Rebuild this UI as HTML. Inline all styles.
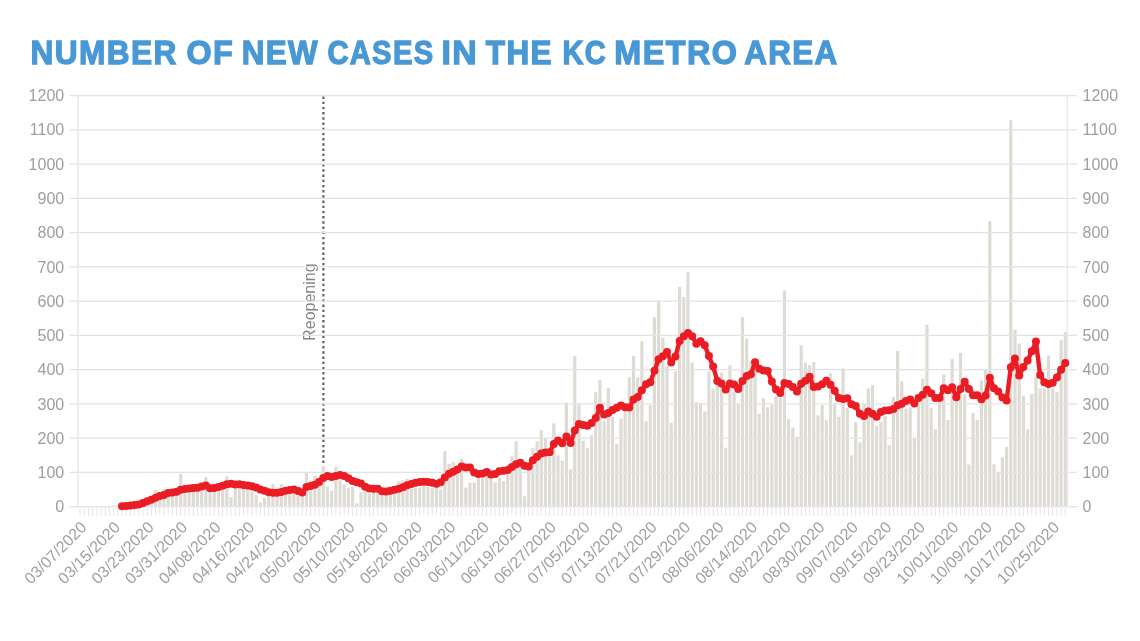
<!DOCTYPE html>
<html><head><meta charset="utf-8"><title>Number of new cases in the KC metro area</title>
<style>
html,body{margin:0;padding:0;background:#fff;width:1140px;height:641px;overflow:hidden}
svg{display:block;will-change:transform}
.t{font-family:"Liberation Sans",Arial,sans-serif;fill:#9e9e9e;font-size:16px}
</style></head><body>
<svg width="1140" height="641" viewBox="0 0 1140 641">
<rect width="1140" height="641" fill="#fff"/>
<text x="30.60" y="64.4" font-family="'Liberation Sans',Arial,sans-serif" font-weight="bold" font-size="34" fill="#4898d5" stroke="#4898d5" stroke-width="1.3" letter-spacing="1.5" textLength="147.20" lengthAdjust="spacingAndGlyphs">NUMBER</text>
<text x="186.50" y="64.4" font-family="'Liberation Sans',Arial,sans-serif" font-weight="bold" font-size="34" fill="#4898d5" stroke="#4898d5" stroke-width="1.3" letter-spacing="1.5" textLength="47.70" lengthAdjust="spacingAndGlyphs">OF</text>
<text x="241.80" y="64.4" font-family="'Liberation Sans',Arial,sans-serif" font-weight="bold" font-size="34" fill="#4898d5" stroke="#4898d5" stroke-width="1.3" letter-spacing="1.5" textLength="77.30" lengthAdjust="spacingAndGlyphs">NEW</text>
<text x="327.40" y="64.4" font-family="'Liberation Sans',Arial,sans-serif" font-weight="bold" font-size="34" fill="#4898d5" stroke="#4898d5" stroke-width="1.3" letter-spacing="1.5" textLength="107.00" lengthAdjust="spacingAndGlyphs">CASES</text>
<text x="441.40" y="64.4" font-family="'Liberation Sans',Arial,sans-serif" font-weight="bold" font-size="34" fill="#4898d5" stroke="#4898d5" stroke-width="1.3" letter-spacing="1.5" textLength="36.80" lengthAdjust="spacingAndGlyphs">IN</text>
<text x="485.80" y="64.4" font-family="'Liberation Sans',Arial,sans-serif" font-weight="bold" font-size="34" fill="#4898d5" stroke="#4898d5" stroke-width="1.3" letter-spacing="1.5" textLength="67.20" lengthAdjust="spacingAndGlyphs">THE</text>
<text x="562.40" y="64.4" font-family="'Liberation Sans',Arial,sans-serif" font-weight="bold" font-size="34" fill="#4898d5" stroke="#4898d5" stroke-width="1.3" letter-spacing="1.5" textLength="44.50" lengthAdjust="spacingAndGlyphs">KC</text>
<text x="614.30" y="64.4" font-family="'Liberation Sans',Arial,sans-serif" font-weight="bold" font-size="34" fill="#4898d5" stroke="#4898d5" stroke-width="1.3" letter-spacing="1.5" textLength="124.10" lengthAdjust="spacingAndGlyphs">METRO</text>
<text x="744.20" y="64.4" font-family="'Liberation Sans',Arial,sans-serif" font-weight="bold" font-size="34" fill="#4898d5" stroke="#4898d5" stroke-width="1.3" letter-spacing="1.5" textLength="94.20" lengthAdjust="spacingAndGlyphs">AREA</text>
<text class="t" x="64.2" y="512.2" text-anchor="end">0</text><text class="t" x="1082.5" y="512.2">0</text>
<text class="t" x="64.2" y="478.0" text-anchor="end">100</text><text class="t" x="1082.5" y="478.0">100</text>
<text class="t" x="64.2" y="443.7" text-anchor="end">200</text><text class="t" x="1082.5" y="443.7">200</text>
<text class="t" x="64.2" y="409.5" text-anchor="end">300</text><text class="t" x="1082.5" y="409.5">300</text>
<text class="t" x="64.2" y="375.2" text-anchor="end">400</text><text class="t" x="1082.5" y="375.2">400</text>
<text class="t" x="64.2" y="341.0" text-anchor="end">500</text><text class="t" x="1082.5" y="341.0">500</text>
<text class="t" x="64.2" y="306.7" text-anchor="end">600</text><text class="t" x="1082.5" y="306.7">600</text>
<text class="t" x="64.2" y="272.5" text-anchor="end">700</text><text class="t" x="1082.5" y="272.5">700</text>
<text class="t" x="64.2" y="238.2" text-anchor="end">800</text><text class="t" x="1082.5" y="238.2">800</text>
<text class="t" x="64.2" y="204.0" text-anchor="end">900</text><text class="t" x="1082.5" y="204.0">900</text>
<text class="t" x="64.2" y="169.7" text-anchor="end">1000</text><text class="t" x="1082.5" y="169.7">1000</text>
<text class="t" x="64.2" y="135.4" text-anchor="end">1100</text><text class="t" x="1082.5" y="135.4">1100</text>
<text class="t" x="64.2" y="101.2" text-anchor="end">1200</text><text class="t" x="1082.5" y="101.2">1200</text>
<path d="M323.4 96.5V465" stroke="#666" stroke-width="2.3" stroke-dasharray="2.4 2.8" fill="none"/>
<text x="315.3" y="340.8" transform="rotate(-90 315.3 340.8)" font-family="'Liberation Sans',Arial,sans-serif" font-size="16" fill="#858585">Reopening</text>
<path d="M80.10 507.5V515.5M84.29 507.5V515.5M88.48 507.5V515.5M92.67 507.5V515.5M96.87 507.5V515.5M101.06 507.5V515.5M105.25 507.5V515.5M109.44 507.5V515.5M113.64 507.5V515.5M117.83 507.5V515.5M122.02 507.5V515.5M126.21 507.5V515.5M130.40 507.5V515.5M134.60 507.5V515.5M138.79 507.5V515.5M142.98 507.5V515.5M147.17 507.5V515.5M151.37 507.5V515.5M155.56 507.5V515.5M159.75 507.5V515.5M163.94 507.5V515.5M168.14 507.5V515.5M172.33 507.5V515.5M176.52 507.5V515.5M180.71 507.5V515.5M184.91 507.5V515.5M189.10 507.5V515.5M193.29 507.5V515.5M197.48 507.5V515.5M201.68 507.5V515.5M205.87 507.5V515.5M210.06 507.5V515.5M214.25 507.5V515.5M218.44 507.5V515.5M222.64 507.5V515.5M226.83 507.5V515.5M231.02 507.5V515.5M235.21 507.5V515.5M239.41 507.5V515.5M243.60 507.5V515.5M247.79 507.5V515.5M251.98 507.5V515.5M256.18 507.5V515.5M260.37 507.5V515.5M264.56 507.5V515.5M268.75 507.5V515.5M272.95 507.5V515.5M277.14 507.5V515.5M281.33 507.5V515.5M285.52 507.5V515.5M289.71 507.5V515.5M293.91 507.5V515.5M298.10 507.5V515.5M302.29 507.5V515.5M306.48 507.5V515.5M310.68 507.5V515.5M314.87 507.5V515.5M319.06 507.5V515.5M323.25 507.5V515.5M327.45 507.5V515.5M331.64 507.5V515.5M335.83 507.5V515.5M340.02 507.5V515.5M344.22 507.5V515.5M348.41 507.5V515.5M352.60 507.5V515.5M356.79 507.5V515.5M360.99 507.5V515.5M365.18 507.5V515.5M369.37 507.5V515.5M373.56 507.5V515.5M377.75 507.5V515.5M381.95 507.5V515.5M386.14 507.5V515.5M390.33 507.5V515.5M394.52 507.5V515.5M398.72 507.5V515.5M402.91 507.5V515.5M407.10 507.5V515.5M411.29 507.5V515.5M415.49 507.5V515.5M419.68 507.5V515.5M423.87 507.5V515.5M428.06 507.5V515.5M432.26 507.5V515.5M436.45 507.5V515.5M440.64 507.5V515.5M444.83 507.5V515.5M449.03 507.5V515.5M453.22 507.5V515.5M457.41 507.5V515.5M461.60 507.5V515.5M465.79 507.5V515.5M469.99 507.5V515.5M474.18 507.5V515.5M478.37 507.5V515.5M482.56 507.5V515.5M486.76 507.5V515.5M490.95 507.5V515.5M495.14 507.5V515.5M499.33 507.5V515.5M503.53 507.5V515.5M507.72 507.5V515.5M511.91 507.5V515.5M516.10 507.5V515.5M520.30 507.5V515.5M524.49 507.5V515.5M528.68 507.5V515.5M532.87 507.5V515.5M537.06 507.5V515.5M541.26 507.5V515.5M545.45 507.5V515.5M549.64 507.5V515.5M553.83 507.5V515.5M558.03 507.5V515.5M562.22 507.5V515.5M566.41 507.5V515.5M570.60 507.5V515.5M574.80 507.5V515.5M578.99 507.5V515.5M583.18 507.5V515.5M587.37 507.5V515.5M591.57 507.5V515.5M595.76 507.5V515.5M599.95 507.5V515.5M604.14 507.5V515.5M608.34 507.5V515.5M612.53 507.5V515.5M616.72 507.5V515.5M620.91 507.5V515.5M625.10 507.5V515.5M629.30 507.5V515.5M633.49 507.5V515.5M637.68 507.5V515.5M641.87 507.5V515.5M646.07 507.5V515.5M650.26 507.5V515.5M654.45 507.5V515.5M658.64 507.5V515.5M662.84 507.5V515.5M667.03 507.5V515.5M671.22 507.5V515.5M675.41 507.5V515.5M679.61 507.5V515.5M683.80 507.5V515.5M687.99 507.5V515.5M692.18 507.5V515.5M696.38 507.5V515.5M700.57 507.5V515.5M704.76 507.5V515.5M708.95 507.5V515.5M713.14 507.5V515.5M717.34 507.5V515.5M721.53 507.5V515.5M725.72 507.5V515.5M729.91 507.5V515.5M734.11 507.5V515.5M738.30 507.5V515.5M742.49 507.5V515.5M746.68 507.5V515.5M750.88 507.5V515.5M755.07 507.5V515.5M759.26 507.5V515.5M763.45 507.5V515.5M767.65 507.5V515.5M771.84 507.5V515.5M776.03 507.5V515.5M780.22 507.5V515.5M784.41 507.5V515.5M788.61 507.5V515.5M792.80 507.5V515.5M796.99 507.5V515.5M801.18 507.5V515.5M805.38 507.5V515.5M809.57 507.5V515.5M813.76 507.5V515.5M817.95 507.5V515.5M822.15 507.5V515.5M826.34 507.5V515.5M830.53 507.5V515.5M834.72 507.5V515.5M838.92 507.5V515.5M843.11 507.5V515.5M847.30 507.5V515.5M851.49 507.5V515.5M855.69 507.5V515.5M859.88 507.5V515.5M864.07 507.5V515.5M868.26 507.5V515.5M872.45 507.5V515.5M876.65 507.5V515.5M880.84 507.5V515.5M885.03 507.5V515.5M889.22 507.5V515.5M893.42 507.5V515.5M897.61 507.5V515.5M901.80 507.5V515.5M905.99 507.5V515.5M910.19 507.5V515.5M914.38 507.5V515.5M918.57 507.5V515.5M922.76 507.5V515.5M926.96 507.5V515.5M931.15 507.5V515.5M935.34 507.5V515.5M939.53 507.5V515.5M943.73 507.5V515.5M947.92 507.5V515.5M952.11 507.5V515.5M956.30 507.5V515.5M960.49 507.5V515.5M964.69 507.5V515.5M968.88 507.5V515.5M973.07 507.5V515.5M977.26 507.5V515.5M981.46 507.5V515.5M985.65 507.5V515.5M989.84 507.5V515.5M994.03 507.5V515.5M998.23 507.5V515.5M1002.42 507.5V515.5M1006.61 507.5V515.5M1010.80 507.5V515.5M1015.00 507.5V515.5M1019.19 507.5V515.5M1023.38 507.5V515.5M1027.57 507.5V515.5M1031.76 507.5V515.5M1035.96 507.5V515.5M1040.15 507.5V515.5M1044.34 507.5V515.5M1048.53 507.5V515.5M1052.73 507.5V515.5M1056.92 507.5V515.5M1061.11 507.5V515.5M1065.30 507.5V515.5" stroke="#e4e4e4" stroke-width="1" fill="none"/>
<path d="M82.70 506.60v-0.34h3.19v0.34zM91.08 506.60v-0.34h3.19v0.34zM95.27 506.60v-0.34h3.19v0.34zM99.46 506.60v-0.69h3.19v0.69zM103.66 506.60v-0.34h3.19v0.34zM107.85 506.60v-0.69h3.19v0.69zM112.04 506.60v-1.03h3.19v1.03zM116.23 506.60v-0.69h3.19v0.69zM120.43 506.60v-1.03h3.19v1.03zM124.62 506.60v-1.37h3.19v1.37zM128.81 506.60v-1.71h3.19v1.71zM133.00 506.60v-2.74h3.19v2.74zM137.20 506.60v-2.06h3.19v2.06zM141.39 506.60v-4.79h3.19v4.79zM145.58 506.60v-7.54h3.19v7.54zM149.77 506.60v-9.59h3.19v9.59zM153.97 506.60v-16.44h3.19v16.44zM158.16 506.60v-11.30h3.19v11.30zM162.35 506.60v-17.81h3.19v17.81zM166.54 506.60v-11.99h3.19v11.99zM170.74 506.60v-13.70h3.19v13.70zM174.93 506.60v-13.02h3.19v13.02zM179.12 506.60v-32.88h3.19v32.88zM183.31 506.60v-16.44h3.19v16.44zM187.50 506.60v-17.81h3.19v17.81zM191.70 506.60v-18.84h3.19v18.84zM195.89 506.60v-17.12h3.19v17.12zM200.08 506.60v-19.87h3.19v19.87zM204.27 506.60v-29.46h3.19v29.46zM208.47 506.60v-14.39h3.19v14.39zM212.66 506.60v-18.84h3.19v18.84zM216.85 506.60v-20.55h3.19v20.55zM221.04 506.60v-19.87h3.19v19.87zM225.24 506.60v-30.14h3.19v30.14zM229.43 506.60v-9.59h3.19v9.59zM233.62 506.60v-20.55h3.19v20.55zM237.81 506.60v-21.24h3.19v21.24zM242.01 506.60v-22.26h3.19v22.26zM246.20 506.60v-18.84h3.19v18.84zM250.39 506.60v-19.87h3.19v19.87zM254.58 506.60v-11.30h3.19v11.30zM258.78 506.60v-4.11h3.19v4.11zM262.97 506.60v-8.91h3.19v8.91zM267.16 506.60v-13.70h3.19v13.70zM271.35 506.60v-22.61h3.19v22.61zM275.54 506.60v-10.62h3.19v10.62zM279.74 506.60v-22.61h3.19v22.61zM283.93 506.60v-13.70h3.19v13.70zM288.12 506.60v-14.39h3.19v14.39zM292.31 506.60v-13.02h3.19v13.02zM296.51 506.60v-15.41h3.19v15.41zM300.70 506.60v-11.30h3.19v11.30zM304.89 506.60v-34.59h3.19v34.59zM309.08 506.60v-26.03h3.19v26.03zM313.28 506.60v-30.83h3.19v30.83zM317.47 506.60v-26.72h3.19v26.72zM321.66 506.60v-40.76h3.19v40.76zM325.85 506.60v-20.21h3.19v20.21zM330.05 506.60v-15.76h3.19v15.76zM334.24 506.60v-39.73h3.19v39.73zM338.43 506.60v-26.37h3.19v26.37zM342.62 506.60v-22.26h3.19v22.26zM346.81 506.60v-19.18h3.19v19.18zM351.01 506.60v-19.52h3.19v19.52zM355.20 506.60v-3.43h3.19v3.43zM359.39 506.60v-14.39h3.19v14.39zM363.58 506.60v-15.41h3.19v15.41zM367.78 506.60v-13.02h3.19v13.02zM371.97 506.60v-15.41h3.19v15.41zM376.16 506.60v-13.36h3.19v13.36zM380.35 506.60v-14.39h3.19v14.39zM384.55 506.60v-11.99h3.19v11.99zM388.74 506.60v-13.36h3.19v13.36zM392.93 506.60v-13.02h3.19v13.02zM397.12 506.60v-25.35h3.19v25.35zM401.32 506.60v-26.03h3.19v26.03zM405.51 506.60v-27.74h3.19v27.74zM409.70 506.60v-17.81h3.19v17.81zM413.89 506.60v-18.84h3.19v18.84zM418.09 506.60v-18.84h3.19v18.84zM422.28 506.60v-20.55h3.19v20.55zM426.47 506.60v-19.87h3.19v19.87zM430.66 506.60v-19.18h3.19v19.18zM434.85 506.60v-21.24h3.19v21.24zM439.05 506.60v-17.12h3.19v17.12zM443.24 506.60v-55.49h3.19v55.49zM447.43 506.60v-42.81h3.19v42.81zM451.62 506.60v-44.53h3.19v44.53zM455.82 506.60v-34.25h3.19v34.25zM460.01 506.60v-47.95h3.19v47.95zM464.20 506.60v-19.18h3.19v19.18zM468.39 506.60v-23.98h3.19v23.98zM472.59 506.60v-23.98h3.19v23.98zM476.78 506.60v-30.83h3.19v30.83zM480.97 506.60v-32.54h3.19v32.54zM485.16 506.60v-34.25h3.19v34.25zM489.36 506.60v-29.11h3.19v29.11zM493.55 506.60v-23.98h3.19v23.98zM497.74 506.60v-28.77h3.19v28.77zM501.93 506.60v-25.35h3.19v25.35zM506.13 506.60v-42.13h3.19v42.13zM510.32 506.60v-50.35h3.19v50.35zM514.51 506.60v-65.42h3.19v65.42zM518.70 506.60v-44.53h3.19v44.53zM522.89 506.60v-10.28h3.19v10.28zM527.09 506.60v-37.68h3.19v37.68zM531.28 506.60v-58.23h3.19v58.23zM535.47 506.60v-65.42h3.19v65.42zM539.66 506.60v-76.72h3.19v76.72zM543.86 506.60v-68.50h3.19v68.50zM548.05 506.60v-49.66h3.19v49.66zM552.24 506.60v-83.23h3.19v83.23zM556.43 506.60v-51.03h3.19v51.03zM560.63 506.60v-45.90h3.19v45.90zM564.82 506.60v-103.78h3.19v103.78zM569.01 506.60v-37.33h3.19v37.33zM573.20 506.60v-150.70h3.19v150.70zM577.40 506.60v-102.07h3.19v102.07zM581.59 506.60v-65.76h3.19v65.76zM585.78 506.60v-58.57h3.19v58.57zM589.97 506.60v-71.24h3.19v71.24zM594.16 506.60v-114.40h3.19v114.40zM598.36 506.60v-126.73h3.19v126.73zM602.55 506.60v-85.62h3.19v85.62zM606.74 506.60v-118.51h3.19v118.51zM610.93 506.60v-89.74h3.19v89.74zM615.13 506.60v-62.68h3.19v62.68zM619.32 506.60v-88.02h3.19v88.02zM623.51 506.60v-99.67h3.19v99.67zM627.70 506.60v-129.47h3.19v129.47zM631.90 506.60v-150.70h3.19v150.70zM636.09 506.60v-129.47h3.19v129.47zM640.28 506.60v-165.43h3.19v165.43zM644.47 506.60v-85.28h3.19v85.28zM648.67 506.60v-101.38h3.19v101.38zM652.86 506.60v-189.40h3.19v189.40zM657.05 506.60v-206.19h3.19v206.19zM661.24 506.60v-168.85h3.19v168.85zM665.44 506.60v-140.77h3.19v140.77zM669.63 506.60v-83.57h3.19v83.57zM673.82 506.60v-135.29h3.19v135.29zM678.01 506.60v-219.54h3.19v219.54zM682.20 506.60v-209.61h3.19v209.61zM686.40 506.60v-234.27h3.19v234.27zM690.59 506.60v-144.19h3.19v144.19zM694.78 506.60v-104.46h3.19v104.46zM698.97 506.60v-103.44h3.19v103.44zM703.17 506.60v-95.22h3.19v95.22zM707.36 506.60v-135.29h3.19v135.29zM711.55 506.60v-117.82h3.19v117.82zM715.74 506.60v-122.27h3.19v122.27zM719.94 506.60v-133.92h3.19v133.92zM724.13 506.60v-58.91h3.19v58.91zM728.32 506.60v-141.11h3.19v141.11zM732.51 506.60v-115.42h3.19v115.42zM736.71 506.60v-102.75h3.19v102.75zM740.90 506.60v-189.40h3.19v189.40zM745.09 506.60v-168.17h3.19v168.17zM749.28 506.60v-145.56h3.19v145.56zM753.48 506.60v-140.43h3.19v140.43zM757.67 506.60v-92.82h3.19v92.82zM761.86 506.60v-108.23h3.19v108.23zM766.05 506.60v-99.33h3.19v99.33zM770.24 506.60v-101.72h3.19v101.72zM774.44 506.60v-110.29h3.19v110.29zM778.63 506.60v-108.57h3.19v108.57zM782.82 506.60v-216.12h3.19v216.12zM787.01 506.60v-87.68h3.19v87.68zM791.21 506.60v-79.12h3.19v79.12zM795.40 506.60v-69.87h3.19v69.87zM799.59 506.60v-161.32h3.19v161.32zM803.78 506.60v-143.85h3.19v143.85zM807.98 506.60v-141.45h3.19v141.45zM812.17 506.60v-144.54h3.19v144.54zM816.36 506.60v-91.45h3.19v91.45zM820.55 506.60v-101.72h3.19v101.72zM824.75 506.60v-86.31h3.19v86.31zM828.94 506.60v-133.23h3.19v133.23zM833.13 506.60v-102.75h3.19v102.75zM837.32 506.60v-89.74h3.19v89.74zM841.51 506.60v-138.03h3.19v138.03zM845.71 506.60v-98.30h3.19v98.30zM849.90 506.60v-51.38h3.19v51.38zM854.09 506.60v-84.26h3.19v84.26zM858.28 506.60v-64.39h3.19v64.39zM862.48 506.60v-102.75h3.19v102.75zM866.67 506.60v-118.16h3.19v118.16zM870.86 506.60v-121.59h3.19v121.59zM875.05 506.60v-80.83h3.19v80.83zM879.25 506.60v-84.60h3.19v84.60zM883.44 506.60v-90.42h3.19v90.42zM887.63 506.60v-61.31h3.19v61.31zM891.82 506.60v-109.94h3.19v109.94zM896.02 506.60v-155.50h3.19v155.50zM900.21 506.60v-125.01h3.19v125.01zM904.40 506.60v-97.96h3.19v97.96zM908.59 506.60v-99.33h3.19v99.33zM912.79 506.60v-67.82h3.19v67.82zM916.98 506.60v-101.72h3.19v101.72zM921.17 506.60v-128.09h3.19v128.09zM925.36 506.60v-181.87h3.19v181.87zM929.55 506.60v-98.64h3.19v98.64zM933.75 506.60v-77.41h3.19v77.41zM937.94 506.60v-104.81h3.19v104.81zM942.13 506.60v-132.21h3.19v132.21zM946.32 506.60v-86.65h3.19v86.65zM950.52 506.60v-147.62h3.19v147.62zM954.71 506.60v-108.57h3.19v108.57zM958.90 506.60v-153.78h3.19v153.78zM963.09 506.60v-112.34h3.19v112.34zM967.29 506.60v-42.13h3.19v42.13zM971.48 506.60v-93.50h3.19v93.50zM975.67 506.60v-86.65h3.19v86.65zM979.86 506.60v-126.04h3.19v126.04zM984.06 506.60v-137.00h3.19v137.00zM988.25 506.60v-285.30h3.19v285.30zM992.44 506.60v-42.13h3.19v42.13zM996.63 506.60v-34.59h3.19v34.59zM1000.83 506.60v-49.32h3.19v49.32zM1005.02 506.60v-59.60h3.19v59.60zM1009.21 506.60v-386.34h3.19v386.34zM1013.40 506.60v-176.73h3.19v176.73zM1017.59 506.60v-163.03h3.19v163.03zM1021.79 506.60v-110.97h3.19v110.97zM1025.98 506.60v-77.41h3.19v77.41zM1030.17 506.60v-112.68h3.19v112.68zM1034.36 506.60v-130.15h3.19v130.15zM1038.56 506.60v-118.16h3.19v118.16zM1042.75 506.60v-118.16h3.19v118.16zM1046.94 506.60v-151.04h3.19v151.04zM1051.13 506.60v-118.16h3.19v118.16zM1055.33 506.60v-114.74h3.19v114.74zM1059.52 506.60v-166.46h3.19v166.46zM1063.71 506.60v-174.68h3.19v174.68z" fill="#dddbd4"/>
<path d="M69.5 506.6H1077 M69.5 472.4H1077 M69.5 438.1H1077 M69.5 403.9H1077 M69.5 369.6H1077 M69.5 335.4H1077 M69.5 301.1H1077 M69.5 266.9H1077 M69.5 232.6H1077 M69.5 198.4H1077 M69.5 164.1H1077 M69.5 129.8H1077 M69.5 95.6H1077" stroke="#e3e3e3" stroke-width="1.3" fill="none"/>
<path d="M78.0 95.6V506.6M1067.4 95.6V506.6" stroke="#e9e9e9" stroke-width="1.4" fill="none"/>
<polyline points="122.02,506.22 126.21,505.92 130.40,505.62 134.60,505.02 138.79,504.39 142.98,502.94 147.17,501.17 151.37,499.77 155.56,497.68 159.75,495.94 163.94,495.11 168.14,493.08 172.33,492.59 176.52,491.71 180.71,489.71 184.91,489.06 189.10,488.43 193.29,488.11 197.48,487.79 201.68,486.60 205.87,485.42 210.06,488.36 214.25,487.91 218.44,486.99 222.64,485.85 226.83,484.13 231.02,483.67 235.21,484.57 239.41,484.36 243.60,484.90 247.79,485.46 251.98,486.16 256.18,487.58 260.37,489.38 264.56,490.86 268.75,492.33 272.95,492.69 277.14,492.86 281.33,491.97 285.52,490.68 289.71,489.92 293.91,489.51 298.10,490.94 302.29,492.55 306.48,486.95 310.68,486.05 314.87,484.79 319.06,482.04 323.25,477.95 327.45,475.90 331.64,476.90 335.83,475.96 340.02,474.88 344.22,476.09 348.41,478.14 352.60,481.11 356.79,482.36 360.99,483.51 365.18,486.74 369.37,488.40 373.56,488.79 377.75,488.79 381.95,491.32 386.14,491.43 390.33,490.87 394.52,489.85 398.72,488.81 402.91,487.22 407.10,485.33 411.29,484.03 415.49,482.78 419.68,482.07 423.87,481.65 428.06,482.12 432.26,482.78 436.45,483.78 440.64,482.15 444.83,477.48 449.03,473.65 453.22,471.63 457.41,469.47 461.60,466.59 465.79,467.40 469.99,467.56 474.18,472.51 478.37,473.95 482.56,473.45 486.76,472.06 490.95,474.55 495.14,474.11 499.33,471.27 503.53,470.72 507.72,470.02 511.91,466.99 516.10,464.24 520.30,462.65 524.49,465.69 528.68,466.46 532.87,460.15 537.06,456.81 541.26,453.55 545.45,452.54 549.64,452.20 553.83,444.10 558.03,440.52 562.22,443.22 566.41,436.41 570.60,442.96 574.80,430.58 578.99,424.08 583.18,424.89 587.37,425.72 591.57,423.05 595.76,418.12 599.95,407.79 604.14,414.58 608.34,412.94 612.53,410.06 616.72,407.79 620.91,405.61 625.10,407.21 629.30,407.41 633.49,399.44 637.68,396.88 641.87,390.32 646.07,384.30 650.26,382.29 654.45,370.83 658.64,359.29 662.84,356.29 667.03,352.11 671.22,362.50 675.41,356.58 679.61,340.89 683.80,336.30 687.99,332.96 692.18,336.21 696.38,343.80 700.57,341.37 704.76,345.21 708.95,356.10 713.14,366.51 717.34,380.98 721.53,383.49 725.72,389.60 729.91,383.45 734.11,384.45 738.30,388.93 742.49,380.92 746.68,376.04 750.88,374.28 755.07,362.16 759.26,368.69 763.45,370.57 767.65,370.94 771.84,381.61 776.03,389.50 780.22,393.09 784.41,383.08 788.61,383.99 792.80,387.05 796.99,391.50 801.18,383.85 805.38,380.80 809.57,376.82 813.76,387.07 817.95,386.46 822.15,384.19 826.34,380.85 830.53,384.82 834.72,390.87 838.92,398.03 843.11,398.95 847.30,398.15 851.49,404.35 855.69,405.90 859.88,413.85 864.07,416.05 868.26,411.46 872.45,413.68 876.65,416.75 880.84,412.04 885.03,410.44 889.22,410.36 893.42,409.08 897.61,405.16 901.80,403.63 905.99,400.91 910.19,399.50 914.38,403.51 918.57,398.03 922.76,394.63 926.96,389.64 931.15,393.33 935.34,397.96 939.53,398.03 943.73,388.18 947.92,390.31 952.11,387.14 956.30,397.20 960.49,389.09 964.69,381.78 968.88,389.02 973.07,395.16 977.26,395.31 981.46,399.16 985.65,395.62 989.84,377.86 994.03,388.19 998.23,391.38 1002.42,397.41 1006.61,400.43 1010.80,367.16 1015.00,358.61 1019.19,375.53 1023.38,366.94 1027.57,360.54 1031.76,351.29 1035.96,341.62 1040.15,375.11 1044.34,382.25 1048.53,383.96 1052.73,382.67 1056.92,377.58 1061.11,369.77 1065.30,363.06" fill="none" stroke="#ea1d25" stroke-width="4.4" stroke-linejoin="round" stroke-linecap="round"/>
<g fill="#ea1d25"><circle cx="122.02" cy="506.22" r="4"/><circle cx="126.21" cy="505.92" r="4"/><circle cx="130.40" cy="505.62" r="4"/><circle cx="134.60" cy="505.02" r="4"/><circle cx="138.79" cy="504.39" r="4"/><circle cx="142.98" cy="502.94" r="4"/><circle cx="147.17" cy="501.17" r="4"/><circle cx="151.37" cy="499.77" r="4"/><circle cx="155.56" cy="497.68" r="4"/><circle cx="159.75" cy="495.94" r="4"/><circle cx="163.94" cy="495.11" r="4"/><circle cx="168.14" cy="493.08" r="4"/><circle cx="172.33" cy="492.59" r="4"/><circle cx="176.52" cy="491.71" r="4"/><circle cx="180.71" cy="489.71" r="4"/><circle cx="184.91" cy="489.06" r="4"/><circle cx="189.10" cy="488.43" r="4"/><circle cx="193.29" cy="488.11" r="4"/><circle cx="197.48" cy="487.79" r="4"/><circle cx="201.68" cy="486.60" r="4"/><circle cx="205.87" cy="485.42" r="4"/><circle cx="210.06" cy="488.36" r="4"/><circle cx="214.25" cy="487.91" r="4"/><circle cx="218.44" cy="486.99" r="4"/><circle cx="222.64" cy="485.85" r="4"/><circle cx="226.83" cy="484.13" r="4"/><circle cx="231.02" cy="483.67" r="4"/><circle cx="235.21" cy="484.57" r="4"/><circle cx="239.41" cy="484.36" r="4"/><circle cx="243.60" cy="484.90" r="4"/><circle cx="247.79" cy="485.46" r="4"/><circle cx="251.98" cy="486.16" r="4"/><circle cx="256.18" cy="487.58" r="4"/><circle cx="260.37" cy="489.38" r="4"/><circle cx="264.56" cy="490.86" r="4"/><circle cx="268.75" cy="492.33" r="4"/><circle cx="272.95" cy="492.69" r="4"/><circle cx="277.14" cy="492.86" r="4"/><circle cx="281.33" cy="491.97" r="4"/><circle cx="285.52" cy="490.68" r="4"/><circle cx="289.71" cy="489.92" r="4"/><circle cx="293.91" cy="489.51" r="4"/><circle cx="298.10" cy="490.94" r="4"/><circle cx="302.29" cy="492.55" r="4"/><circle cx="306.48" cy="486.95" r="4"/><circle cx="310.68" cy="486.05" r="4"/><circle cx="314.87" cy="484.79" r="4"/><circle cx="319.06" cy="482.04" r="4"/><circle cx="323.25" cy="477.95" r="4"/><circle cx="327.45" cy="475.90" r="4"/><circle cx="331.64" cy="476.90" r="4"/><circle cx="335.83" cy="475.96" r="4"/><circle cx="340.02" cy="474.88" r="4"/><circle cx="344.22" cy="476.09" r="4"/><circle cx="348.41" cy="478.14" r="4"/><circle cx="352.60" cy="481.11" r="4"/><circle cx="356.79" cy="482.36" r="4"/><circle cx="360.99" cy="483.51" r="4"/><circle cx="365.18" cy="486.74" r="4"/><circle cx="369.37" cy="488.40" r="4"/><circle cx="373.56" cy="488.79" r="4"/><circle cx="377.75" cy="488.79" r="4"/><circle cx="381.95" cy="491.32" r="4"/><circle cx="386.14" cy="491.43" r="4"/><circle cx="390.33" cy="490.87" r="4"/><circle cx="394.52" cy="489.85" r="4"/><circle cx="398.72" cy="488.81" r="4"/><circle cx="402.91" cy="487.22" r="4"/><circle cx="407.10" cy="485.33" r="4"/><circle cx="411.29" cy="484.03" r="4"/><circle cx="415.49" cy="482.78" r="4"/><circle cx="419.68" cy="482.07" r="4"/><circle cx="423.87" cy="481.65" r="4"/><circle cx="428.06" cy="482.12" r="4"/><circle cx="432.26" cy="482.78" r="4"/><circle cx="436.45" cy="483.78" r="4"/><circle cx="440.64" cy="482.15" r="4"/><circle cx="444.83" cy="477.48" r="4"/><circle cx="449.03" cy="473.65" r="4"/><circle cx="453.22" cy="471.63" r="4"/><circle cx="457.41" cy="469.47" r="4"/><circle cx="461.60" cy="466.59" r="4"/><circle cx="465.79" cy="467.40" r="4"/><circle cx="469.99" cy="467.56" r="4"/><circle cx="474.18" cy="472.51" r="4"/><circle cx="478.37" cy="473.95" r="4"/><circle cx="482.56" cy="473.45" r="4"/><circle cx="486.76" cy="472.06" r="4"/><circle cx="490.95" cy="474.55" r="4"/><circle cx="495.14" cy="474.11" r="4"/><circle cx="499.33" cy="471.27" r="4"/><circle cx="503.53" cy="470.72" r="4"/><circle cx="507.72" cy="470.02" r="4"/><circle cx="511.91" cy="466.99" r="4"/><circle cx="516.10" cy="464.24" r="4"/><circle cx="520.30" cy="462.65" r="4"/><circle cx="524.49" cy="465.69" r="4"/><circle cx="528.68" cy="466.46" r="4"/><circle cx="532.87" cy="460.15" r="4"/><circle cx="537.06" cy="456.81" r="4"/><circle cx="541.26" cy="453.55" r="4"/><circle cx="545.45" cy="452.54" r="4"/><circle cx="549.64" cy="452.20" r="4"/><circle cx="553.83" cy="444.10" r="4"/><circle cx="558.03" cy="440.52" r="4"/><circle cx="562.22" cy="443.22" r="4"/><circle cx="566.41" cy="436.41" r="4"/><circle cx="570.60" cy="442.96" r="4"/><circle cx="574.80" cy="430.58" r="4"/><circle cx="578.99" cy="424.08" r="4"/><circle cx="583.18" cy="424.89" r="4"/><circle cx="587.37" cy="425.72" r="4"/><circle cx="591.57" cy="423.05" r="4"/><circle cx="595.76" cy="418.12" r="4"/><circle cx="599.95" cy="407.79" r="4"/><circle cx="604.14" cy="414.58" r="4"/><circle cx="608.34" cy="412.94" r="4"/><circle cx="612.53" cy="410.06" r="4"/><circle cx="616.72" cy="407.79" r="4"/><circle cx="620.91" cy="405.61" r="4"/><circle cx="625.10" cy="407.21" r="4"/><circle cx="629.30" cy="407.41" r="4"/><circle cx="633.49" cy="399.44" r="4"/><circle cx="637.68" cy="396.88" r="4"/><circle cx="641.87" cy="390.32" r="4"/><circle cx="646.07" cy="384.30" r="4"/><circle cx="650.26" cy="382.29" r="4"/><circle cx="654.45" cy="370.83" r="4"/><circle cx="658.64" cy="359.29" r="4"/><circle cx="662.84" cy="356.29" r="4"/><circle cx="667.03" cy="352.11" r="4"/><circle cx="671.22" cy="362.50" r="4"/><circle cx="675.41" cy="356.58" r="4"/><circle cx="679.61" cy="340.89" r="4"/><circle cx="683.80" cy="336.30" r="4"/><circle cx="687.99" cy="332.96" r="4"/><circle cx="692.18" cy="336.21" r="4"/><circle cx="696.38" cy="343.80" r="4"/><circle cx="700.57" cy="341.37" r="4"/><circle cx="704.76" cy="345.21" r="4"/><circle cx="708.95" cy="356.10" r="4"/><circle cx="713.14" cy="366.51" r="4"/><circle cx="717.34" cy="380.98" r="4"/><circle cx="721.53" cy="383.49" r="4"/><circle cx="725.72" cy="389.60" r="4"/><circle cx="729.91" cy="383.45" r="4"/><circle cx="734.11" cy="384.45" r="4"/><circle cx="738.30" cy="388.93" r="4"/><circle cx="742.49" cy="380.92" r="4"/><circle cx="746.68" cy="376.04" r="4"/><circle cx="750.88" cy="374.28" r="4"/><circle cx="755.07" cy="362.16" r="4"/><circle cx="759.26" cy="368.69" r="4"/><circle cx="763.45" cy="370.57" r="4"/><circle cx="767.65" cy="370.94" r="4"/><circle cx="771.84" cy="381.61" r="4"/><circle cx="776.03" cy="389.50" r="4"/><circle cx="780.22" cy="393.09" r="4"/><circle cx="784.41" cy="383.08" r="4"/><circle cx="788.61" cy="383.99" r="4"/><circle cx="792.80" cy="387.05" r="4"/><circle cx="796.99" cy="391.50" r="4"/><circle cx="801.18" cy="383.85" r="4"/><circle cx="805.38" cy="380.80" r="4"/><circle cx="809.57" cy="376.82" r="4"/><circle cx="813.76" cy="387.07" r="4"/><circle cx="817.95" cy="386.46" r="4"/><circle cx="822.15" cy="384.19" r="4"/><circle cx="826.34" cy="380.85" r="4"/><circle cx="830.53" cy="384.82" r="4"/><circle cx="834.72" cy="390.87" r="4"/><circle cx="838.92" cy="398.03" r="4"/><circle cx="843.11" cy="398.95" r="4"/><circle cx="847.30" cy="398.15" r="4"/><circle cx="851.49" cy="404.35" r="4"/><circle cx="855.69" cy="405.90" r="4"/><circle cx="859.88" cy="413.85" r="4"/><circle cx="864.07" cy="416.05" r="4"/><circle cx="868.26" cy="411.46" r="4"/><circle cx="872.45" cy="413.68" r="4"/><circle cx="876.65" cy="416.75" r="4"/><circle cx="880.84" cy="412.04" r="4"/><circle cx="885.03" cy="410.44" r="4"/><circle cx="889.22" cy="410.36" r="4"/><circle cx="893.42" cy="409.08" r="4"/><circle cx="897.61" cy="405.16" r="4"/><circle cx="901.80" cy="403.63" r="4"/><circle cx="905.99" cy="400.91" r="4"/><circle cx="910.19" cy="399.50" r="4"/><circle cx="914.38" cy="403.51" r="4"/><circle cx="918.57" cy="398.03" r="4"/><circle cx="922.76" cy="394.63" r="4"/><circle cx="926.96" cy="389.64" r="4"/><circle cx="931.15" cy="393.33" r="4"/><circle cx="935.34" cy="397.96" r="4"/><circle cx="939.53" cy="398.03" r="4"/><circle cx="943.73" cy="388.18" r="4"/><circle cx="947.92" cy="390.31" r="4"/><circle cx="952.11" cy="387.14" r="4"/><circle cx="956.30" cy="397.20" r="4"/><circle cx="960.49" cy="389.09" r="4"/><circle cx="964.69" cy="381.78" r="4"/><circle cx="968.88" cy="389.02" r="4"/><circle cx="973.07" cy="395.16" r="4"/><circle cx="977.26" cy="395.31" r="4"/><circle cx="981.46" cy="399.16" r="4"/><circle cx="985.65" cy="395.62" r="4"/><circle cx="989.84" cy="377.86" r="4"/><circle cx="994.03" cy="388.19" r="4"/><circle cx="998.23" cy="391.38" r="4"/><circle cx="1002.42" cy="397.41" r="4"/><circle cx="1006.61" cy="400.43" r="4"/><circle cx="1010.80" cy="367.16" r="4"/><circle cx="1015.00" cy="358.61" r="4"/><circle cx="1019.19" cy="375.53" r="4"/><circle cx="1023.38" cy="366.94" r="4"/><circle cx="1027.57" cy="360.54" r="4"/><circle cx="1031.76" cy="351.29" r="4"/><circle cx="1035.96" cy="341.62" r="4"/><circle cx="1040.15" cy="375.11" r="4"/><circle cx="1044.34" cy="382.25" r="4"/><circle cx="1048.53" cy="383.96" r="4"/><circle cx="1052.73" cy="382.67" r="4"/><circle cx="1056.92" cy="377.58" r="4"/><circle cx="1061.11" cy="369.77" r="4"/><circle cx="1065.30" cy="363.06" r="4"/></g>
<text class="t" x="87.6" y="528.3" text-anchor="end" transform="rotate(-45 87.6 528.3)">03/07/2020</text>
<text class="t" x="121.1" y="528.3" text-anchor="end" transform="rotate(-45 121.1 528.3)">03/15/2020</text>
<text class="t" x="154.7" y="528.3" text-anchor="end" transform="rotate(-45 154.7 528.3)">03/23/2020</text>
<text class="t" x="188.2" y="528.3" text-anchor="end" transform="rotate(-45 188.2 528.3)">03/31/2020</text>
<text class="t" x="221.8" y="528.3" text-anchor="end" transform="rotate(-45 221.8 528.3)">04/08/2020</text>
<text class="t" x="255.3" y="528.3" text-anchor="end" transform="rotate(-45 255.3 528.3)">04/16/2020</text>
<text class="t" x="288.8" y="528.3" text-anchor="end" transform="rotate(-45 288.8 528.3)">04/24/2020</text>
<text class="t" x="322.4" y="528.3" text-anchor="end" transform="rotate(-45 322.4 528.3)">05/02/2020</text>
<text class="t" x="355.9" y="528.3" text-anchor="end" transform="rotate(-45 355.9 528.3)">05/10/2020</text>
<text class="t" x="389.4" y="528.3" text-anchor="end" transform="rotate(-45 389.4 528.3)">05/18/2020</text>
<text class="t" x="423.0" y="528.3" text-anchor="end" transform="rotate(-45 423.0 528.3)">05/26/2020</text>
<text class="t" x="456.5" y="528.3" text-anchor="end" transform="rotate(-45 456.5 528.3)">06/03/2020</text>
<text class="t" x="490.1" y="528.3" text-anchor="end" transform="rotate(-45 490.1 528.3)">06/11/2020</text>
<text class="t" x="523.6" y="528.3" text-anchor="end" transform="rotate(-45 523.6 528.3)">06/19/2020</text>
<text class="t" x="557.1" y="528.3" text-anchor="end" transform="rotate(-45 557.1 528.3)">06/27/2020</text>
<text class="t" x="590.7" y="528.3" text-anchor="end" transform="rotate(-45 590.7 528.3)">07/05/2020</text>
<text class="t" x="624.2" y="528.3" text-anchor="end" transform="rotate(-45 624.2 528.3)">07/13/2020</text>
<text class="t" x="657.8" y="528.3" text-anchor="end" transform="rotate(-45 657.8 528.3)">07/21/2020</text>
<text class="t" x="691.3" y="528.3" text-anchor="end" transform="rotate(-45 691.3 528.3)">07/29/2020</text>
<text class="t" x="724.8" y="528.3" text-anchor="end" transform="rotate(-45 724.8 528.3)">08/06/2020</text>
<text class="t" x="758.4" y="528.3" text-anchor="end" transform="rotate(-45 758.4 528.3)">08/14/2020</text>
<text class="t" x="791.9" y="528.3" text-anchor="end" transform="rotate(-45 791.9 528.3)">08/22/2020</text>
<text class="t" x="825.5" y="528.3" text-anchor="end" transform="rotate(-45 825.5 528.3)">08/30/2020</text>
<text class="t" x="859.0" y="528.3" text-anchor="end" transform="rotate(-45 859.0 528.3)">09/07/2020</text>
<text class="t" x="892.5" y="528.3" text-anchor="end" transform="rotate(-45 892.5 528.3)">09/15/2020</text>
<text class="t" x="926.1" y="528.3" text-anchor="end" transform="rotate(-45 926.1 528.3)">09/23/2020</text>
<text class="t" x="959.6" y="528.3" text-anchor="end" transform="rotate(-45 959.6 528.3)">10/01/2020</text>
<text class="t" x="993.1" y="528.3" text-anchor="end" transform="rotate(-45 993.1 528.3)">10/09/2020</text>
<text class="t" x="1026.7" y="528.3" text-anchor="end" transform="rotate(-45 1026.7 528.3)">10/17/2020</text>
<text class="t" x="1060.2" y="528.3" text-anchor="end" transform="rotate(-45 1060.2 528.3)">10/25/2020</text>
</svg>
</body></html>
